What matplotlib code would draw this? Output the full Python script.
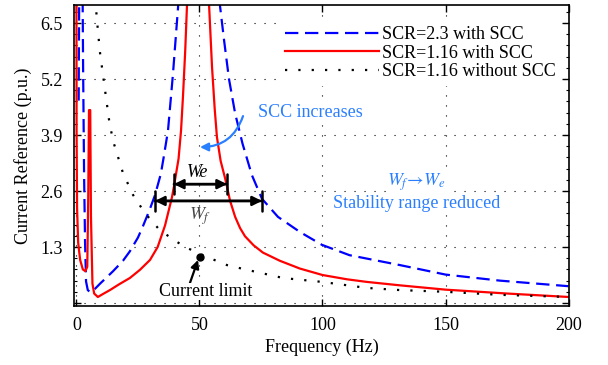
import matplotlib
matplotlib.use('Agg')
import matplotlib.pyplot as plt
from matplotlib.ticker import AutoMinorLocator

# curve values (Hz, p.u.)
blue_f = [0.9, 1.0, 1.2, 2.4, 2.7, 3.1, 3.5, 3.9, 4.6, 5.6, 6.7, 9.6, 12.0, 14.9, 18.9,
          21.7, 25.0, 27.0, 29.5, 31.9, 34.3, 35.5, 37.2, 39.2, 41.3, 42.0,
          57.0, 58.3, 60.0, 62.0, 64.5, 67.5, 71.3, 75.4, 81.9, 90.8, 99.8, 111,
          131.5, 150, 172, 200]
blue_v = [4.7, 6.0, 8.0, 8.0, 5.5, 3.0, 1.4, 0.5, 0.3, 0.25, 0.28, 0.45, 0.58, 0.74, 0.98,
          1.2, 1.52, 1.78, 2.13, 2.5, 3.0, 3.4, 4.0, 5.3, 6.87, 8.0,
          8.0, 6.92, 6.1, 5.2, 4.4, 3.7, 2.97, 2.42, 2.0, 1.65, 1.35, 1.11,
          0.88, 0.66, 0.52, 0.39]

red_f = [0.0, 0.05, 0.25, 0.7, 1.5, 2.6, 3.6, 4.4, 4.8, 5.1, 5.6, 5.9, 6.5, 7.2, 8.7,
         10.5, 13.6, 17.5, 21.7, 25.8, 29.9, 33.0, 36.0, 38.8, 39.6, 41.5, 42.5,
         43.3, 44.2, 44.9, 45.8, 53.3, 53.9, 55.1, 56.2, 57.1, 58.6, 60.4, 61.2,
         62.4, 64.5, 66.5, 68.5, 72.0, 75.8, 82.7, 90.8, 100, 110, 118, 131.5,
         150, 175, 200]
red_v = [7.5, 4.0, 2.2, 1.4, 1.0, 0.78, 0.74, 0.84, 2.5, 4.48, 4.48, 2.0, 0.45, 0.22, 0.14,
         0.2, 0.30, 0.44, 0.58, 0.77, 1.0, 1.3, 1.8, 2.45, 2.7, 3.35, 4.0,
         4.8, 5.85, 6.87, 8.5, 8.5, 6.92, 5.48, 4.5, 3.85, 3.3, 2.9, 2.7,
         2.38, 2.0, 1.74, 1.55, 1.34, 1.17, 0.98, 0.8, 0.65, 0.55, 0.49, 0.41,
         0.31, 0.22, 0.14]

dot_f = [7.3, 7.9, 8.7, 9.6, 10.8, 12.0, 13.2, 14.8, 18.9, 23.0, 27.8, 33.9, 40.8,
         44.9, 53.0, 61.2, 69.3, 78.7, 84.0, 99.8, 118, 131.5, 150, 172, 200]
dot_v = [7.3, 6.87, 6.34, 5.8, 5.29, 4.78, 4.27, 3.78, 3.02, 2.51, 2.09, 1.69, 1.42,
         1.28, 1.07, 0.88, 0.77, 0.65, 0.58, 0.49, 0.35, 0.30, 0.26, 0.19, 0.14]

labels = ['SCR=2.3 with SCC', 'SCR=1.16 with SCC', 'SCR=1.16 without SCC']
yticks = [0, 1.3, 2.6, 3.9, 5.2, 6.5]
ytick_labels = ['', '1.3', '2.6', '3.9', '5.2', '6.5']
xticks = [0, 50, 100, 150, 200]

limit_pt = (50.2, 1.07)
we_span = (39.6, 61.2, 2.76)
wf_span = (31.9, 75.4, 2.37)

plt.rcParams['font.family'] = 'Liberation Serif'
plt.rcParams['mathtext.fontset'] = 'stix'
plt.rcParams['font.size'] = 13

blue_txt = '#2a7fff'

fig = plt.figure(figsize=(6.08, 3.65), dpi=100)
ax = fig.add_axes([0.1217, 0.1616, 0.8142, 0.8247])

l1, = ax.plot(blue_f, blue_v, color='#0000ff', lw=1.6, linestyle=(0, (6, 3)))
l2, = ax.plot(red_f, red_v, color='#ff0000', lw=1.6)
l3, = ax.plot(dot_f, dot_v, color='k', lw=1.6, linestyle=(0, (1, 5)))

ax.set_xlim(-1, 200.2)
ax.set_ylim(-0.07, 6.92)
ax.set_xticks(xticks)
ax.set_yticks(yticks)
ax.set_yticklabels(ytick_labels)
ax.yaxis.set_minor_locator(AutoMinorLocator(5))
ax.tick_params(direction='in', top=True, right=True, length=5, width=1, pad=8)
ax.tick_params(which='minor', direction='in', right=True, length=2.5, width=0.8)
ax.grid(True, color='k', linestyle=(0, (1, 8)), linewidth=0.8)
ax.set_axisbelow(True)
for s in ax.spines.values():
    s.set_linewidth(1.2)

ax.set_xlabel('Frequency (Hz)', labelpad=3)
ax.set_ylabel('Current Reference (p.u.)', labelpad=6)

leg = ax.legend([l1, l2, l3], labels, loc='upper right', bbox_to_anchor=(0.985, 0.948),
                frameon=True, facecolor='white', edgecolor='none', framealpha=1,
                handlelength=5.2, handletextpad=0.2, labelspacing=0.09,
                borderpad=0.3, borderaxespad=0, fancybox=False)

# annotations
ax.text(94.9, 4.43, 'SCC increases', color=blue_txt, ha='center', va='center',
        bbox=dict(facecolor='white', edgecolor='none', pad=1))
ax.annotate('', xy=(50.2, 3.62), xytext=(67.7, 4.34),
            arrowprops=dict(arrowstyle='-|>', color=blue_txt, lw=1.6,
                            connectionstyle='arc3,rad=-0.35', mutation_scale=12,
                            shrinkA=0, shrinkB=0))

ax.text(138.4, 2.80, r'$W_f\!\rightarrow\!W_e$', color=blue_txt, ha='center', va='center',
        bbox=dict(facecolor='white', edgecolor='none', pad=1))
ax.text(138.4, 2.32, 'Stability range reduced', color=blue_txt, ha='center', va='center',
        bbox=dict(facecolor='white', edgecolor='none', pad=1))

for x0, x1, yv in [we_span, wf_span]:
    ax.annotate('', xy=(x0, yv), xytext=(x1, yv),
                arrowprops=dict(arrowstyle='<|-|>', color='k', lw=1.8,
                                mutation_scale=14, shrinkA=0, shrinkB=0))
    ax.annotate('', xy=(x0, yv), xytext=(x1, yv),
                arrowprops=dict(arrowstyle='|-|,widthA=0.35,widthB=0.35', color='k',
                                lw=1.8, mutation_scale=20, shrinkA=0, shrinkB=0))

ax.text(49.4, 3.02, 'We', style='italic', ha='center', va='center')
ax.text(50.2, 2.02, r'$W_f$', color='#444444', ha='center', va='center')

ax.plot([limit_pt[0]], [limit_pt[1]], 'o', color='k', ms=5)
ax.annotate('', xy=(49.4, 1.0), xytext=(46.1, 0.46),
            arrowprops=dict(arrowstyle='-|>', color='k', lw=1.6, mutation_scale=12,
                            shrinkA=0, shrinkB=0))
ax.text(52.6, 0.27, 'Current limit', ha='center', va='center',
        bbox=dict(facecolor='white', edgecolor='none', pad=0))

fig.savefig('out.png', dpi=100)
